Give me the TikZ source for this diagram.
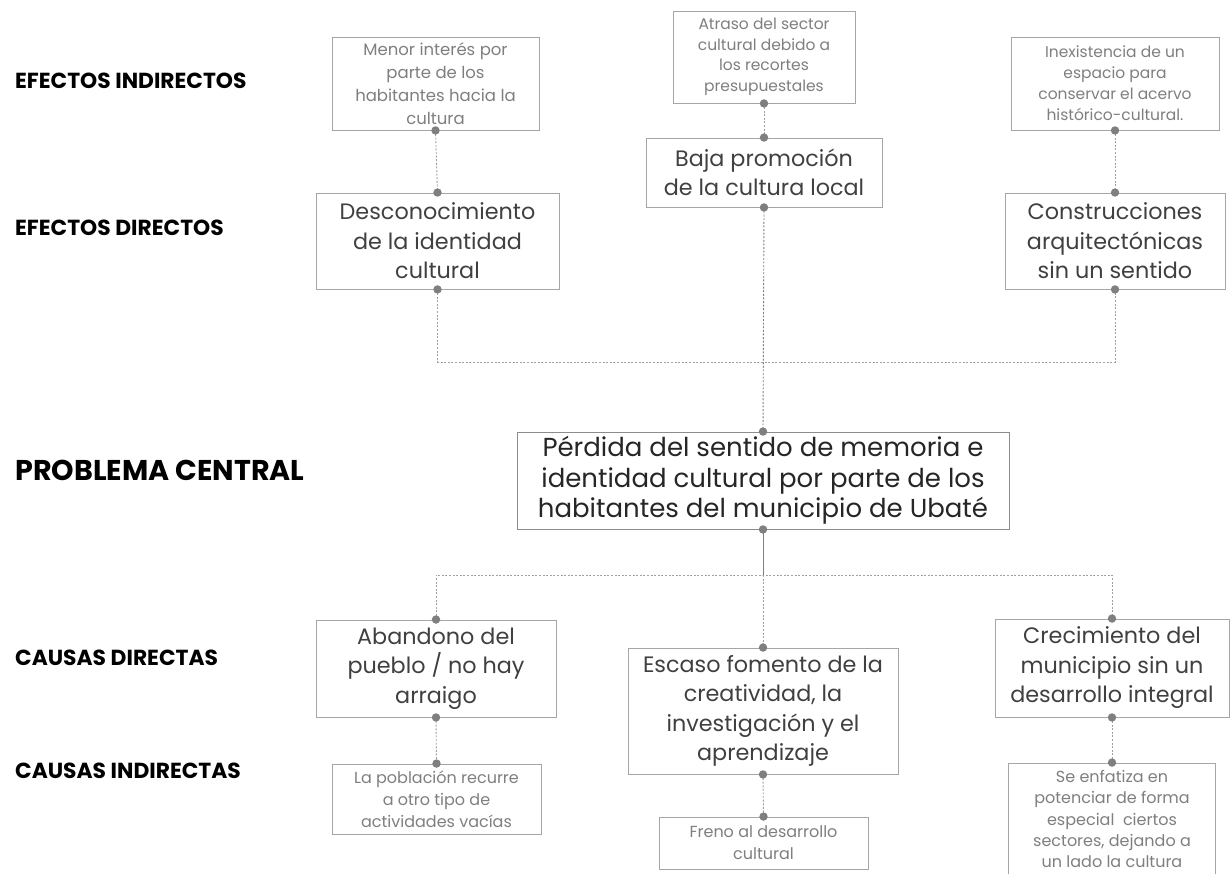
\documentclass[tikz,border=0pt]{standalone}
\usepackage{fontspec}
\setmainfont{Poppins}
\definecolor{maintext}{HTML}{404040}
\definecolor{centraltext}{HTML}{262626}
\definecolor{smalltext}{HTML}{7F7F7F}
\definecolor{boxgray}{HTML}{A6A6A6}
\definecolor{boxdark}{HTML}{8C8C8C}
\definecolor{dotgray}{HTML}{7F7F7F}
\definecolor{linegray}{HTML}{A0A0A0}
\tikzset{
  bigbox/.style={draw=boxgray, line width=0.9pt, align=center, inner sep=0pt, text=maintext,
    font=\fontsize{22.3}{29.5}\selectfont},
  smallbox/.style={draw=boxgray, line width=0.9pt, align=center, inner sep=0pt, text=smalltext,
    font=\fontsize{16}{22}\selectfont},
  centralbox/.style={draw=boxdark, line width=0.9pt, align=center, inner sep=0pt, text=centraltext,
    font=\fontsize{26}{30.5}\selectfont},
  rowlabel/.style={anchor=west, inner sep=0pt, text=black, font=\bfseries\fontsize{21.8}{24}\selectfont},
  biglabel/.style={anchor=west, inner sep=0pt, text=black, font=\bfseries\fontsize{28.6}{32}\selectfont},
  conn/.style={draw=linegray, line width=0.9pt, dash pattern=on 2pt off 1.6pt},
  connsolid/.style={draw=dotgray, line width=0.9pt},
  dotc/.style={fill=dotgray},
}
\begin{document}
\begin{tikzpicture}[x=1pt,y=-1pt]
\useasboundingbox (0,0) rectangle (1230,874);
\clip (0,0) rectangle (1230,874);
\fill[white] (0,0) rectangle (1230,874);

% row labels
\node[rowlabel] (lei) at (15,81) {EFECTOS INDIRECTOS};
\node[rowlabel] (led) at (15,228) {EFECTOS DIRECTOS};
\node[biglabel] (lpc) at (15,470.5) {PROBLEMA CENTRAL};
\node[rowlabel] (lcd) at (15,658) {CAUSAS DIRECTAS};
\node[rowlabel] (lci) at (15,771) {CAUSAS INDIRECTAS};

% indirect effects
\node[smallbox, minimum width=207pt, minimum height=93pt, font=\fontsize{16.5}{23}\selectfont] (menor) at (435.5,83.5)
  {Menor interés por\\parte de los\\habitantes hacia la\\cultura};
\node[smallbox, minimum width=182pt, minimum height=92pt, font=\fontsize{15.5}{20.5}\selectfont] (atraso) at (764,57)
  {Atraso del sector\\cultural debido a\\los recortes\\presupuestales};
\node[smallbox, minimum width=208pt, minimum height=93pt, font=\fontsize{15.5}{21}\selectfont] (inex) at (1115,83.5)
  {Inexistencia de un\\espacio para\\conservar el acervo\\histórico-cultural.};

% direct effects
\node[bigbox, minimum width=236pt, minimum height=69pt] (baja) at (764,172.5)
  {Baja promoción\\de la cultura local};
\node[bigbox, minimum width=243pt, minimum height=96pt] (desc) at (437.5,241)
  {Desconocimiento\\de la identidad\\cultural};
\node[bigbox, minimum width=220pt, minimum height=96pt] (cons) at (1115,241)
  {Construcciones\\arquitectónicas\\sin un sentido};

% central problem
\node[centralbox, minimum width=492pt, minimum height=97pt] (central) at (763,480.5)
  {Pérdida del sentido de memoria e\\identidad cultural por parte de los\\habitantes del municipio de Ubaté};

% direct causes
\node[bigbox, minimum width=240pt, minimum height=97pt] (aband) at (436,668.5)
  {Abandono del\\pueblo / no hay\\arraigo};
\node[bigbox, minimum width=270pt, minimum height=126pt] (escaso) at (763,711)
  {Escaso fomento de la\\creatividad, la\\investigación y el\\aprendizaje};
\node[bigbox, minimum width=234pt, minimum height=98pt] (crec) at (1112,668)
  {Crecimiento del\\municipio sin un\\desarrollo integral};

% indirect causes
\node[smallbox, minimum width=209pt, minimum height=70pt] (pobl) at (436.5,799)
  {La población recurre\\a otro tipo de\\actividades vacías};
\node[smallbox, minimum width=209pt, minimum height=52pt] (freno) at (763.5,843)
  {Freno al desarrollo\\cultural};
\node[smallbox, minimum width=207pt, minimum height=112pt, font=\fontsize{16}{21.3}\selectfont] (enfat) at (1112,819)
  {Se enfatiza en\\potenciar de forma\\especial\ \ ciertos\\sectores, dejando a\\un lado la cultura};

% junctions
\coordinate (jtop) at (763,362);
\coordinate (jbot) at (763,575);

% connectors
\draw[conn] (menor.south) -- (desc.north);
\draw[conn] (atraso.south) -- (baja.north);
\draw[conn] (inex.south) -- (cons.north);
\draw[conn] (desc.south) |- (jtop) -| (cons.south);
\draw[conn, draw=dotgray] (baja.south) -- (central.north);
\draw[connsolid] (central.south) -- (jbot);
\draw[conn] (aband.north) |- (jbot) -| (crec.north);
\draw[conn] (jbot) -- (escaso.north);
\draw[conn] (aband.south) -- (pobl.north);
\draw[conn] (escaso.south) -- (freno.north);
\draw[conn] (crec.south) -- (enfat.north);

% dots
\foreach \n in {menor.south, desc.north, desc.south, atraso.south, baja.north, baja.south,
  inex.south, cons.north, cons.south, central.north, central.south,
  aband.north, aband.south, pobl.north, escaso.north, escaso.south, freno.north,
  crec.north, crec.south, enfat.north}
  \fill[dotc] (\n) circle (4.2pt);
\end{tikzpicture}
\end{document}
